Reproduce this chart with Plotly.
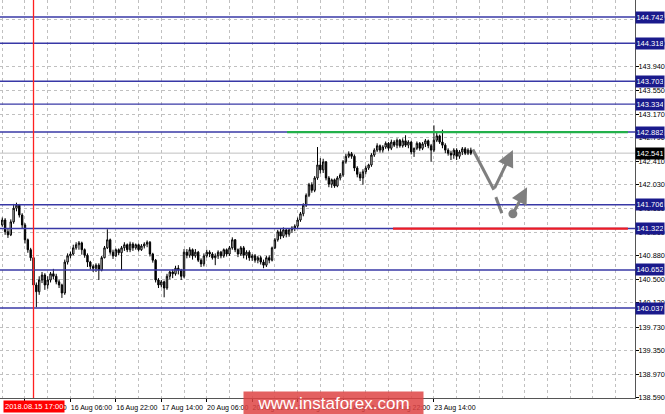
import plotly.graph_objects as go

# ---------------- data (USD/JPY H1) ----------------
bar_index = list(range(-8, 158))  # hourly bars; 0 = 15 Aug 14:00, weekend skipped

opens = [141.38, 141.46, 141.27, 141.22, 141.43, 141.65, 141.70, 141.54, 141.38, 141.14,
         140.98, 140.85, 140.41, 140.30, 140.49, 140.57, 140.41, 140.49, 140.59, 140.55,
         140.46, 140.41, 140.28, 140.78, 140.88, 140.91, 141.01, 141.06, 141.09, 140.98,
         140.89, 140.78, 140.71, 140.68, 140.73, 140.65, 140.85, 141.01, 141.14, 140.94,
         140.88, 140.98, 140.93, 141.01, 141.06, 140.98, 141.07, 141.01, 141.06, 140.98,
         141.04, 141.07, 141.10, 140.91, 140.81, 140.49, 140.41, 140.46, 140.36, 140.55,
         140.62, 140.59, 140.68, 140.65, 140.55, 140.94, 140.89, 140.98, 140.88, 140.94,
         140.81, 140.75, 140.88, 140.94, 140.91, 140.85, 140.88, 140.94, 140.88, 140.98,
         140.91, 141.01, 141.14, 140.98, 140.91, 141.01, 140.89, 140.94, 140.85, 140.88,
         140.81, 140.85, 140.78, 140.73, 140.85, 140.81, 141.01, 141.14, 141.27, 141.20,
         141.30, 141.23, 141.30, 141.33, 141.36, 141.46, 141.56, 141.70, 141.86, 142.03,
         141.94, 142.14, 142.35, 142.27, 142.40, 142.14, 142.04, 142.11, 142.01, 142.14,
         142.19, 142.40, 142.49, 142.53, 142.49, 142.30, 142.20, 142.14, 142.24, 142.30,
         142.35, 142.51, 142.59, 142.66, 142.59, 142.64, 142.70, 142.62, 142.72, 142.67,
         142.75, 142.66, 142.74, 142.67, 142.72, 142.56, 142.62, 142.70, 142.62, 142.69,
         142.74, 142.66, 142.59, 142.75, 142.82, 142.72, 142.67, 142.59, 142.54, 142.51,
         142.59, 142.49, 142.56, 142.61, 142.54, 142.59]

highs = [141.50, 141.49, 141.32, 141.47, 141.72, 141.74, 141.72, 141.57, 141.41, 141.16,
         141.01, 140.88, 140.45, 140.55, 140.62, 140.60, 140.55, 140.62, 140.67, 140.59,
         140.50, 140.43, 140.82, 140.92, 140.95, 141.06, 141.10, 141.12, 141.11, 141.00,
         140.92, 140.80, 140.74, 140.76, 140.76, 140.88, 141.04, 141.31, 141.16, 140.98,
         141.00, 141.00, 141.04, 141.10, 141.08, 141.11, 141.10, 141.08, 141.08, 141.07,
         141.10, 141.13, 141.12, 140.93, 140.83, 140.52, 140.49, 140.48, 140.59, 140.64,
         140.66, 140.72, 140.73, 140.67, 140.99, 140.99, 141.02, 141.00, 140.99, 140.96,
         140.84, 140.92, 140.98, 140.97, 140.94, 140.92, 140.97, 140.96, 141.00, 141.00,
         141.04, 141.18, 141.15, 141.00, 141.04, 141.04, 140.97, 140.97, 140.91, 140.91,
         140.88, 140.88, 140.82, 140.88, 140.89, 141.03, 141.17, 141.30, 141.32, 141.34,
         141.33, 141.33, 141.36, 141.39, 141.50, 141.59, 141.73, 141.89, 142.06, 142.07,
         142.17, 142.64, 142.46, 142.45, 142.41, 142.17, 142.13, 142.13, 142.17, 142.22,
         142.43, 142.53, 142.57, 142.56, 142.52, 142.33, 142.24, 142.28, 142.34, 142.37,
         142.54, 142.62, 142.70, 142.68, 142.67, 142.73, 142.72, 142.76, 142.75, 142.78,
         142.77, 142.78, 142.83, 142.75, 142.74, 142.63, 142.73, 142.72, 142.72, 142.77,
         142.76, 142.69, 142.99, 142.88, 142.84, 142.92, 142.70, 142.62, 142.58, 142.62,
         142.62, 142.59, 142.64, 142.64, 142.62, 142.63]

lows = [141.35, 141.22, 141.17, 141.20, 141.40, 141.60, 141.50, 141.33, 141.08, 140.93,
        140.80, 140.35, 140.05, 140.25, 140.44, 140.33, 140.35, 140.45, 140.50, 140.42,
        140.36, 140.20, 140.25, 140.74, 140.84, 140.89, 140.98, 140.98, 140.90, 140.85,
        140.70, 140.66, 140.62, 140.62, 140.49, 140.63, 140.84, 140.99, 140.90, 140.83,
        140.86, 140.89, 140.65, 140.96, 140.94, 140.94, 140.96, 140.98, 140.95, 140.96,
        141.00, 141.02, 140.87, 140.77, 140.45, 140.36, 140.37, 140.21, 140.33, 140.50,
        140.52, 140.56, 140.58, 140.49, 140.52, 140.84, 140.85, 140.82, 140.85, 140.78,
        140.70, 140.71, 140.85, 140.86, 140.82, 140.73, 140.83, 140.84, 140.85, 140.87,
        140.88, 140.98, 140.94, 140.86, 140.88, 140.84, 140.82, 140.80, 140.80, 140.77,
        140.76, 140.74, 140.68, 140.70, 140.76, 140.79, 140.99, 141.11, 141.15, 141.17,
        141.18, 141.19, 141.25, 141.28, 141.33, 141.43, 141.52, 141.67, 141.83, 141.90,
        141.91, 142.11, 142.21, 142.22, 142.10, 141.99, 141.98, 141.98, 141.99, 142.10,
        142.16, 142.37, 142.46, 142.45, 142.25, 142.15, 142.09, 142.03, 142.20, 142.27,
        142.32, 142.48, 142.56, 142.55, 142.55, 142.61, 142.58, 142.59, 142.64, 142.62,
        142.63, 142.63, 142.64, 142.62, 142.52, 142.48, 142.59, 142.58, 142.59, 142.64,
        142.62, 142.40, 142.56, 142.72, 142.69, 142.62, 142.54, 142.50, 142.43, 142.45,
        142.43, 142.45, 142.51, 142.51, 142.51, 142.51]

closes = [141.46, 141.27, 141.22, 141.43, 141.65, 141.70, 141.54, 141.38, 141.14, 140.98,
          140.85, 140.41, 140.30, 140.49, 140.57, 140.41, 140.49, 140.59, 140.55, 140.46,
          140.41, 140.28, 140.78, 140.88, 140.91, 141.01, 141.06, 141.09, 140.98, 140.89,
          140.78, 140.71, 140.68, 140.73, 140.65, 140.85, 141.01, 141.14, 140.94, 140.88,
          140.98, 140.93, 141.01, 141.06, 140.98, 141.07, 141.01, 141.06, 140.98, 141.04,
          141.07, 141.10, 140.91, 140.81, 140.49, 140.41, 140.46, 140.36, 140.55, 140.62,
          140.59, 140.68, 140.65, 140.55, 140.94, 140.89, 140.98, 140.88, 140.94, 140.81,
          140.75, 140.88, 140.94, 140.91, 140.85, 140.88, 140.94, 140.88, 140.98, 140.91,
          141.01, 141.14, 140.98, 140.91, 141.01, 140.89, 140.94, 140.85, 140.88, 140.81,
          140.85, 140.78, 140.73, 140.85, 140.81, 141.01, 141.14, 141.27, 141.20, 141.30,
          141.23, 141.30, 141.33, 141.36, 141.46, 141.56, 141.70, 141.86, 142.03, 141.94,
          142.14, 142.35, 142.27, 142.40, 142.14, 142.04, 142.11, 142.01, 142.14, 142.19,
          142.40, 142.49, 142.53, 142.49, 142.30, 142.20, 142.14, 142.24, 142.30, 142.35,
          142.51, 142.59, 142.66, 142.59, 142.64, 142.70, 142.62, 142.72, 142.67, 142.75,
          142.66, 142.74, 142.67, 142.72, 142.56, 142.62, 142.70, 142.62, 142.69, 142.74,
          142.66, 142.59, 142.75, 142.82, 142.72, 142.67, 142.59, 142.54, 142.51, 142.59,
          142.49, 142.56, 142.61, 142.54, 142.59, 142.54]

x_tick_pos = [0, 16, 32, 48, 64, 80, 96, 112, 128, 144]
x_tick_labels = ["15 Aug 14:00", "16 Aug 06:00", "16 Aug 22:00", "17 Aug 14:00",
                 "20 Aug 06:00", "20 Aug 22:00", "21 Aug 14:00", "22 Aug 06:00",
                 "22 Aug 22:00", "23 Aug 14:00"]

y_tick_vals = [138.590, 138.970, 139.350, 139.730, 140.120, 140.500, 140.880, 141.260,
               141.650, 142.030, 142.410, 142.790, 143.170, 143.550, 143.940, 144.320, 144.700]

levels = [144.742, 144.318, 143.703, 143.334, 142.882, 141.706, 141.322, 140.652, 140.037]
last_price = 142.541

marker_bar = 3
marker_label = "2018.08.15 17:00"

green_level = 142.882
green_span = [92.3, 212.3]
red_level = 141.322
red_span = [129.6, 212.3]

arrow1_path_x = [157.7, 165.1]
arrow1_path_y = [142.60, 141.95]
arrow1_tip = (171.8, 142.59)
arrow2_dash_x = [165.8, 167.9]
arrow2_dash_y = [141.83, 141.57]
arrow2_start = (171.8, 141.56)
arrow2_tip = (176.8, 141.99)

# ---------------- figure ----------------
W, H = 665, 414
PLOT_R = 30
PLOT_B = 16
NAVY = "#1a1a8c"
LEVEL_LINE = "#3838a6"
GRID = "#c0c0c0"
FONT = "Liberation Sans, Arial, sans-serif"

fig = go.Figure()

fig.add_trace(go.Candlestick(
    x=bar_index, open=opens, high=highs, low=lows, close=closes,
    increasing=dict(line=dict(color="#000000", width=1), fillcolor="#ffffff"),
    decreasing=dict(line=dict(color="#000000", width=1), fillcolor="#000000"),
    whiskerwidth=0, showlegend=False, hoverinfo="skip",
))

shapes = []
shapes.append(dict(type="line", xref="paper", yref="y", x0=0, x1=1, y0=last_price, y1=last_price,
                   line=dict(color="#c0c0c0", width=1), layer="below"))
for lv in levels:
    shapes.append(dict(type="line", xref="paper", yref="y", x0=0, x1=1, y0=lv, y1=lv,
                       line=dict(color=LEVEL_LINE, width=1.4)))
shapes.append(dict(type="line", xref="x", yref="y", x0=green_span[0], x1=green_span[1],
                   y0=green_level, y1=green_level, line=dict(color="#22b04a", width=2.2)))
shapes.append(dict(type="line", xref="x", yref="y", x0=red_span[0], x1=red_span[1],
                   y0=red_level, y1=red_level, line=dict(color="#ee1c24", width=2.2)))
shapes.append(dict(type="line", xref="x", yref="paper", x0=marker_bar, x1=marker_bar, y0=0, y1=1,
                   line=dict(color="#ff2020", width=1.3)))

ARROW = "#7f7f7f"
fig.add_trace(go.Scatter(x=arrow1_path_x, y=arrow1_path_y, mode="lines",
                         line=dict(color=ARROW, width=3), showlegend=False, hoverinfo="skip"))
fig.add_trace(go.Scatter(x=arrow2_dash_x, y=arrow2_dash_y, mode="lines",
                         line=dict(color=ARROW, width=3), showlegend=False, hoverinfo="skip"))
fig.add_trace(go.Scatter(x=[arrow2_start[0]], y=[arrow2_start[1]], mode="markers",
                         marker=dict(color=ARROW, size=9), showlegend=False, hoverinfo="skip"))

annotations = []
annotations.append(dict(x=arrow1_tip[0], y=arrow1_tip[1], ax=arrow1_path_x[-1], ay=arrow1_path_y[-1],
                        xref="x", yref="y", axref="x", ayref="y", text="", showarrow=True,
                        arrowhead=2, arrowsize=1.1, arrowwidth=3, arrowcolor=ARROW))
annotations.append(dict(x=arrow2_tip[0], y=arrow2_tip[1], ax=arrow2_start[0], ay=arrow2_start[1],
                        xref="x", yref="y", axref="x", ayref="y", text="", showarrow=True,
                        arrowhead=2, arrowsize=1.1, arrowwidth=3, arrowcolor=ARROW))

for lv in levels:
    annotations.append(dict(x=1, y=lv, xref="paper", yref="y", xanchor="left", yanchor="middle",
                            text=f"{lv:.3f}", showarrow=False, bgcolor=NAVY, borderpad=1,
                            width=26, height=9,
                            font=dict(family=FONT, size=7.5, color="#ffffff")))
annotations.append(dict(x=1, y=last_price, xref="paper", yref="y", xanchor="left", yanchor="middle",
                        text=f"{last_price:.3f}", showarrow=False, bgcolor="#000000", borderpad=1,
                        width=26, height=9,
                        font=dict(family=FONT, size=7.5, color="#ffffff")))
annotations.append(dict(x=marker_bar, y=0, xref="x", yref="paper", xanchor="center", yanchor="top",
                        yshift=-2, text=marker_label, showarrow=False, bgcolor="#ff0000",
                        borderpad=1, font=dict(family=FONT, size=7.5, color="#ffffff")))
annotations.append(dict(x=333.5 / (W - PLOT_R), y=-5 / (H - PLOT_B), xref="paper", yref="paper",
                        xanchor="center", yanchor="middle", text="www.instaforex.com",
                        showarrow=False, bgcolor="rgba(222,68,68,0.85)", width=177, height=21,
                        font=dict(family=FONT, size=17, color="#ffffff")))

fig.update_layout(
    width=W, height=H,
    margin=dict(l=0, r=PLOT_R, t=0, b=PLOT_B, pad=0, autoexpand=False),
    paper_bgcolor="#ffffff", plot_bgcolor="#ffffff",
    showlegend=False,
    shapes=shapes, annotations=annotations,
    xaxis=dict(
        range=[-8.8, 214.8], rangeslider=dict(visible=False),
        tickmode="array", tickvals=x_tick_pos, ticktext=x_tick_labels,
        ticks="outside", ticklen=3, tickcolor="#000000",
        ticklabelshift=21, ticklabelstandoff=0,
        tickfont=dict(family=FONT, size=7, color="#000000"),
        showgrid=True, gridcolor=GRID, griddash="dot", gridwidth=1,
        minor=dict(dtick=8, tick0=0, showgrid=True, gridcolor=GRID, griddash="dot", ticklen=0),
        showline=True, linecolor="#555555", linewidth=1,
        zeroline=False, automargin=False, fixedrange=True,
    ),
    yaxis=dict(
        range=[138.582, 145.017], side="right",
        tickmode="array", tickvals=y_tick_vals, ticktext=[f"{v:.3f}" for v in y_tick_vals],
        ticks="outside", ticklen=3, tickcolor="#000000",
        ticklabelstandoff=-2,
        tickfont=dict(family=FONT, size=7.3, color="#000000"),
        showgrid=True, gridcolor=GRID, griddash="dot", gridwidth=1,
        showline=True, linecolor="#555555", linewidth=1,
        zeroline=False, automargin=False, fixedrange=True,
    ),
)

fig.write_html("out.html", config={"displayModeBar": False},
               post_script="document.body.style.margin='0';document.body.style.overflow='hidden';")
